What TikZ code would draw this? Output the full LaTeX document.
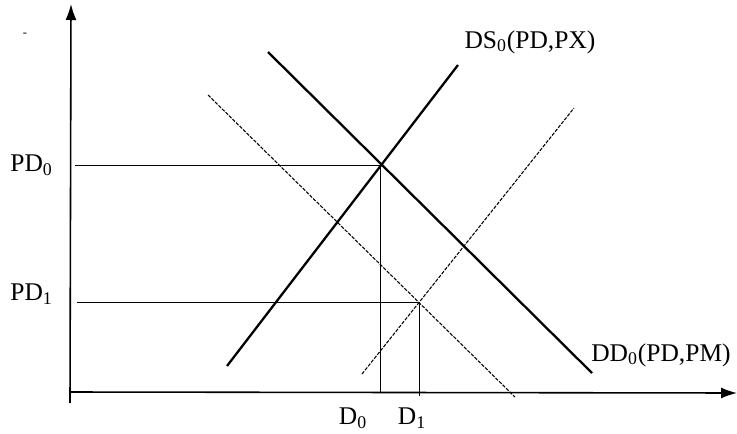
\documentclass[tikz,border=0pt]{standalone}
\usepackage{fontspec}
\setmainfont{Liberation Serif}
\usetikzlibrary{arrows.meta}
\begin{document}
\begin{tikzpicture}[x=0.02cm,y=-0.02cm,font=\fontsize{14.5}{17}\selectfont,
    axis/.style={line width=0.9pt,-{Latex[length=3.2mm,width=2.2mm]}},
    curve/.style={line width=1.3pt},
    shifted/.style={line width=0.6pt,dash pattern=on 2pt off 0.8pt},
    guide/.style={line width=0.5pt}]
    \useasboundingbox (0,0) rectangle (737,433);
    % Achsen
    \coordinate (O) at (70,392);
    \coordinate (ybot) at (70,403);
    \coordinate (ytop) at (71,4);
    \coordinate (xend) at (737,393);
    \draw[axis] (ybot) -- (ytop);
    \draw[axis] (O) -- (xend);
    \node (mark) at (25,35) {\scriptsize -};

    % Gleichgewichtspunkte
    \coordinate (E0) at (380,165);
    \coordinate (E1) at (419,302);
    \coordinate (y0) at (75,165);
    \coordinate (y1) at (77,302);
    \coordinate (x0) at (380,392);
    \coordinate (x1) at (419,396);

    % Kurven
    \coordinate (ds0a) at (227,366);  \coordinate (ds0b) at (458,65);
    \coordinate (dd0a) at (268,52);   \coordinate (dd0b) at (592,373);
    \coordinate (dd1a) at (208,95);   \coordinate (dd1b) at (515,397);
    \coordinate (ds1a) at (362,374);  \coordinate (ds1b) at (574,108);
    \draw[curve] (ds0a) -- (ds0b);
    \draw[curve] (dd0a) -- (dd0b);
    \draw[shifted] (dd1a) -- (dd1b);
    \draw[shifted] (ds1a) -- (ds1b);

    % Hilfslinien
    \draw[guide] (y0) -- (E0) -- (x0);
    \draw[guide] (y1) -- (E1) -- (x1);

    % Beschriftung
    \node (pd0) [anchor=east] at (59,165) {PD\textsubscript{0}};
    \node (pd1) [anchor=east] at (59,294) {PD\textsubscript{1}};
    \node (d0) at (353,418) {D\textsubscript{0}};
    \node (d1) at (412,418) {D\textsubscript{1}};
    \node (ds0) at (530,42) {DS\textsubscript{0}(PD,PX)};
    \node (dd0) at (661,355) {DD\textsubscript{0}(PD,PM)};
\end{tikzpicture}
\end{document}
